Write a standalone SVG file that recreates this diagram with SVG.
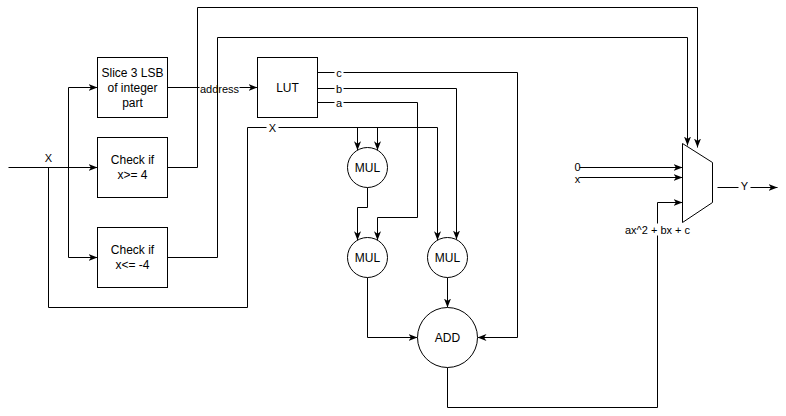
<svg xmlns="http://www.w3.org/2000/svg" width="786" height="416" viewBox="0 0 786 416">
<style>
.n{fill:#fff;stroke:#000;stroke-width:1}
.t{font-family:"Liberation Sans",Arial,sans-serif;font-size:12px;fill:#000;text-anchor:middle;dominant-baseline:central}
.l{font-family:"Liberation Sans",Arial,sans-serif;font-size:11px;fill:#000;text-anchor:middle;dominant-baseline:central}
.c{fill:none;stroke:#000;stroke-width:1}
.a{marker-end:url(#arr)}
.bg{fill:#fff;stroke:none}
</style>
<defs>
<marker id="arr" markerUnits="userSpaceOnUse" markerWidth="10" markerHeight="8" refX="9" refY="4" orient="auto">
<path d="M0,0.5 L9,4 L0,7.5 L2.5,4 Z" fill="#000"/>
</marker>
</defs>
<rect width="786" height="416" fill="#fff"/>
<g transform="translate(0.5,0.5)">
<g id="connectors">
<path class="c a" d="M8,167 H97"/>
<path class="c a" d="M68,167 V87 H97"/>
<path class="c a" d="M68,167 V257 H97"/>
<path class="c a" d="M167,87 H257"/>
<rect class="bg" x="199" y="82" width="40" height="12"/>
<text class="l" x="219" y="88">address</text>
<path class="c a" d="M167,167 H197 V7 H697 V147"/>
<path class="c a" d="M167,257 H217 V37 H687 V145"/>
<path class="c a" d="M48,167 V307 H247 V127 H437 V239.7"/>
<path class="c a" d="M357,127 V149.7"/>
<path class="c a" d="M377,127 V149.7"/>
<rect class="bg" x="266" y="121" width="12" height="12"/>
<text class="l" x="272" y="127">X</text>
<path class="c a" d="M367,187 V207 H357 V239.7"/>
<path class="c a" d="M317,102 H417 V217 H377 V239.7"/>
<path class="c a" d="M317,88 H456 V239"/>
<path class="c a" d="M317,72 H517 V337 H477"/>
<rect class="bg" x="334" y="66" width="9" height="12"/>
<text class="l" x="338.5" y="72">c</text>
<rect class="bg" x="334" y="82" width="9" height="12"/>
<text class="l" x="338.5" y="88">b</text>
<rect class="bg" x="334" y="96" width="9" height="12"/>
<text class="l" x="338.5" y="102">a</text>
<path class="c a" d="M367,277 V337 H417"/>
<path class="c a" d="M447,277 V307"/>
<path class="c a" d="M447,367 V407 H657 V202 H682"/>
<rect class="bg" x="624" y="223" width="66" height="12"/>
<text class="l" x="657" y="229">ax^2 + bx + c</text>
<path class="c a" d="M579,167 H682"/>
<path class="c a" d="M579,177 H682"/>
<text class="l" x="577" y="166">0</text>
<text class="l" x="577" y="178">x</text>
<path class="c a" d="M717,187 H777"/>
<rect class="bg" x="738" y="180" width="12" height="12"/>
<text class="l" x="744" y="185">Y</text>
<text class="l" x="48" y="157">X</text>
</g>
<g id="slice">
<rect class="n" x="97" y="57" width="70" height="60"/>
<text class="t" x="132" y="72">Slice 3 LSB</text>
<text class="t" x="132" y="87">of integer</text>
<text class="t" x="132" y="102">part</text>
</g>
<g id="check-ge">
<rect class="n" x="97" y="137" width="70" height="60"/>
<text class="t" x="132" y="159">Check if</text>
<text class="t" x="132" y="174">x&gt;= 4</text>
</g>
<g id="check-le">
<rect class="n" x="97" y="227" width="70" height="60"/>
<text class="t" x="132" y="249">Check if</text>
<text class="t" x="132" y="264">x&lt;= -4</text>
</g>
<g id="lut">
<rect class="n" x="257" y="57" width="60" height="60"/>
<text class="t" x="287" y="87">LUT</text>
</g>
<g id="mul1">
<circle class="n" cx="367" cy="167" r="20"/>
<text class="t" x="367" y="167">MUL</text>
</g>
<g id="mul2">
<circle class="n" cx="367" cy="257" r="20"/>
<text class="t" x="367" y="257">MUL</text>
</g>
<g id="mul3">
<circle class="n" cx="447" cy="257" r="20"/>
<text class="t" x="447" y="257">MUL</text>
</g>
<g id="add">
<circle class="n" cx="447" cy="337" r="30"/>
<text class="t" x="447" y="337">ADD</text>
</g>
<g id="mux">
<polygon class="n" points="682,143 712,162 712,202 682,222"/>
</g>
</g>
</svg>
